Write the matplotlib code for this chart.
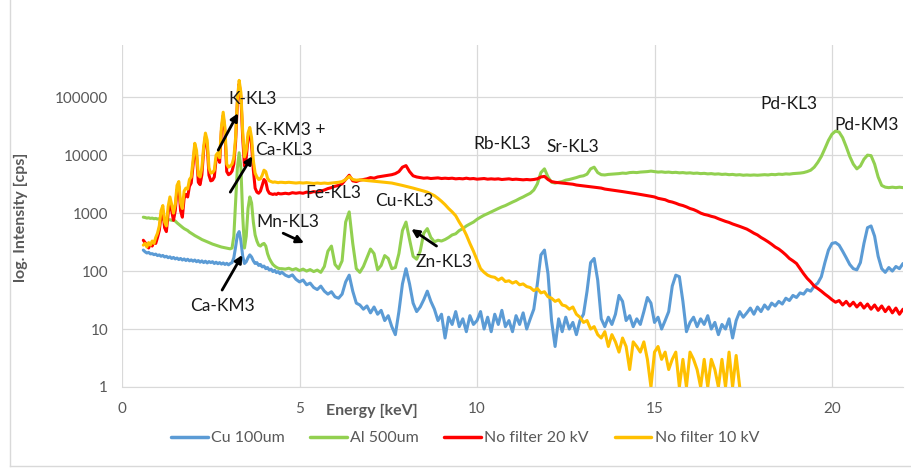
import numpy as np
import matplotlib
matplotlib.use("Agg")
import matplotlib.pyplot as plt
from matplotlib.lines import Line2D

plt.rcParams['font.family'] = ['Lato', 'DejaVu Sans']

# Energy sampling [keV]: 0.05 keV steps up to 4.45 keV, 0.1 keV steps from 4.5 keV
energy_low = 0.60 + 0.05 * np.arange(78)
energy_high = 4.5 + 0.1 * np.arange(176)
energy = np.concatenate([energy_low, energy_high])

# Intensities [cps]
cu100_low = [
    230, 215, 205, 210, 198, 200, 192, 196, 185, 190,
    180, 186, 175, 180, 170, 176, 165, 172, 162, 168,
    158, 165, 155, 162, 152, 160, 150, 156, 148, 155,
    145, 152, 142, 150, 140, 148, 138, 146, 140, 145,
    135, 142, 134, 140, 132, 138, 130, 136, 128, 135,
    140, 170, 260, 420, 480, 330, 180, 135, 145, 170,
    190, 175, 150, 135, 140, 125, 130, 118, 122, 110,
    115, 104, 108, 98, 103, 94, 98, 90,
]
cu100_high = [
    96, 85, 80, 86, 72, 65, 70, 58, 62, 52,
    48, 55, 45, 40, 44, 36, 34, 40, 65, 85,
    45, 28, 26, 22, 25, 19, 24, 18, 21, 14,
    17, 11, 8, 20, 60, 110, 60, 28, 20, 24,
    32, 45, 30, 22, 14, 18, 7, 16, 12, 20,
    11, 15, 9, 17, 12, 14, 20, 10, 16, 9,
    18, 12, 21, 11, 14, 9, 17, 12, 19, 10,
    15, 22, 60, 190, 230, 90, 14, 5, 15, 9,
    16, 10, 13, 8, 14, 18, 45, 140, 165, 70,
    15, 11, 16, 12, 18, 38, 30, 14, 17, 11,
    15, 12, 20, 35, 28, 13, 16, 10, 14, 20,
    55, 85, 80, 30, 9, 13, 16, 11, 15, 12,
    17, 10, 13, 8, 12, 10, 15, 7, 14, 20,
    16, 19, 23, 18, 24, 20, 26, 22, 28, 25,
    30, 27, 34, 31, 38, 35, 42, 40, 48, 45,
    55, 62, 80, 140, 230, 300, 310, 280, 220, 170,
    130, 110, 105, 140, 300, 560, 600, 400, 180, 110,
    95, 115, 100, 120, 110, 135,
]

al500_low = [
    850, 840, 820, 830, 810, 820, 800, 810, 790, 800,
    780, 790, 770, 780, 760, 770, 750, 760, 730, 680,
    640, 600, 570, 540, 520, 500, 470, 450, 430, 410,
    395, 380, 365, 350, 340, 330, 320, 310, 300, 292,
    285, 278, 272, 266, 260, 256, 252, 248, 245, 242,
    250, 400, 1500, 6000, 11000, 6000, 900, 250, 400, 1200,
    1900, 1500, 700, 420, 330, 280, 270, 290, 300, 270,
    200, 165, 145, 130, 122, 116, 112, 110,
]
al500_high = [
    110, 108, 112, 105, 110, 102, 108, 100, 106, 98,
    104, 95, 120, 220, 270, 130, 110, 150, 700, 1050,
    300, 110, 95, 120, 170, 240, 200, 105, 125, 185,
    165, 110, 115, 200, 500, 700, 350, 180, 160, 220,
    450, 540, 380, 320, 340, 330, 350, 380, 420, 440,
    500, 540, 600, 650, 700, 780, 850, 920, 980, 1050,
    1120, 1200, 1280, 1350, 1450, 1550, 1650, 1780, 1900, 2050,
    2200, 2500, 3200, 5000, 5800, 4200, 3400, 3300, 3400, 3500,
    3700, 3800, 3950, 4100, 4300, 4400, 4700, 5800, 6200, 5000,
    4600, 4550, 4650, 4700, 4750, 4800, 4900, 4850, 5000, 5050,
    5000, 5100, 5150, 5200, 5300, 5200, 5100, 5150, 5050, 5100,
    5000, 5050, 4950, 5000, 4900, 4950, 4850, 4900, 4800, 4850,
    4750, 4800, 4700, 4750, 4650, 4700, 4600, 4650, 4550, 4600,
    4500, 4550, 4500, 4550, 4500, 4550, 4600, 4550, 4650, 4600,
    4700, 4650, 4750, 4700, 4800, 4850, 4900, 5000, 5200, 5500,
    6200, 7500, 9500, 13000, 18000, 23000, 26000, 25000, 20000, 14000,
    9500, 7000, 5800, 6500, 8500, 10000, 9800, 7000, 4200, 3000,
    2800, 2750, 2800, 2750, 2800, 2750,
]

nofilter20_low = [
    340, 310, 280, 250, 300, 270, 320, 300, 380, 500,
    900, 1100, 560, 480, 1000, 1600, 1100, 750, 1100, 2500,
    2900, 1100, 850, 1800, 2100, 1900, 2900, 3300, 6500, 14000,
    10000, 3400, 3100, 4600, 12000, 21000, 15000, 4500, 3600, 3700,
    4200, 8500, 9500, 7500, 26000, 48000, 25000, 5200, 4600, 4800,
    5300, 7000, 17000, 80000, 170000, 100000, 20000, 6500, 9000, 20000,
    25000, 15000, 5500, 2700, 2300, 2200, 2400, 3000, 3800, 3500,
    2500, 2200, 2150, 2100, 2150, 2100, 2200, 2150,
]
nofilter20_high = [
    2150, 2200, 2150, 2250, 2200, 2250, 2200, 2300, 2250, 2350,
    2300, 2400, 2500, 2650, 2750, 2900, 3000, 3200, 3800, 4500,
    3600, 3500, 3700, 3800, 3900, 4100, 4000, 4200, 4300, 4400,
    4500, 4600, 4800, 5200, 6200, 6600, 5200, 4400, 4200, 4100,
    4000, 4050, 3950, 4000, 4050, 3950, 4000, 3950, 4000, 3900,
    3950, 3900, 4000, 3900, 3950, 3850, 3900, 3950, 3850, 3900,
    3850, 3900, 3800, 3850, 3900, 3800, 3850, 3800, 3750, 3800,
    3750, 3800, 3900, 4200, 4300, 3800, 3500, 3400, 3350, 3300,
    3250, 3200, 3150, 3050, 3000, 2950, 2900, 2850, 2800, 2750,
    2700, 2600, 2550, 2500, 2450, 2400, 2350, 2300, 2250, 2200,
    2150, 2100, 2050, 2000, 1950, 1900, 1800, 1750, 1700, 1600,
    1550, 1480, 1400, 1350, 1280, 1200, 1150, 1080, 1000, 950,
    920, 880, 850, 800, 760, 720, 690, 650, 620, 590,
    560, 530, 490, 450, 420, 380, 350, 320, 290, 260,
    240, 215, 190, 165, 150, 135, 110, 90, 75, 65,
    55, 50, 45, 40, 36, 32, 29, 31, 26, 30,
    25, 29, 24, 28, 23, 27, 22, 26, 21, 25,
    20, 24, 19, 23, 18, 22,
]

nofilter10_low = [
    280, 300, 260, 310, 280, 330, 300, 380, 450, 600,
    1100, 1350, 700, 600, 1300, 1900, 1400, 1000, 1400, 3000,
    3500, 1500, 1200, 2400, 2700, 2600, 3800, 4200, 8000, 16000,
    12000, 4500, 4200, 6000, 14000, 24000, 18000, 6000, 4900, 5000,
    5500, 10000, 11000, 9000, 30000, 55000, 30000, 7000, 6200, 6500,
    7000, 9000, 20000, 90000, 195000, 120000, 25000, 9300, 12000, 24000,
    30000, 20000, 8000, 4900, 4200, 3800, 3900, 4500, 5500, 5200,
    4000, 3600, 3500, 3400, 3450, 3400, 3350, 3400,
]
nofilter10_high = [
    3400, 3350, 3400, 3350, 3300, 3350, 3300, 3350, 3300, 3250,
    3300, 3250, 3300, 3250, 3300, 3350, 3400, 3500, 3800, 4300,
    3800, 3700, 3750, 3700, 3650, 3600, 3550, 3500, 3450, 3400,
    3350, 3300, 3200, 3100, 3000, 2900, 2800, 2700, 2600, 2500,
    2400, 2300, 2150, 2000, 1800, 1600, 1400, 1200, 1050, 900,
    700, 560, 420, 300, 220, 155, 110, 95, 85, 80,
    78, 70, 76, 66, 68, 62, 66, 58, 60, 54,
    52, 46, 50, 42, 44, 36, 34, 30, 32, 26,
    25, 22, 24, 18, 16, 13, 14, 10, 11, 8,
    7, 9, 5, 8, 6, 4, 7, 5, 2, 6,
    5, 4, 6, 3, 1, 4, 5, 3, 4, 2,
    3, 4, 1, 3, 1, 4, 3, 2, 1, 3,
    1, 3, 2, 1, 3, 1, 4, 1, 3.5, 1,
]

series = [
    ("Cu 100um", cu100_low + cu100_high, "#5B9BD5"),
    ("Al 500um", al500_low + al500_high, "#92D050"),
    ("No filter 20 kV", nofilter20_low + nofilter20_high, "#FF0000"),
    ("No filter 10 kV", nofilter10_low + nofilter10_high, "#FFC000"),
]

# Line labels: (text, energy, cps)
peak_labels = [
    ("K-KL3", 2.99, 9.3e4),
    ("K-KM3 +", 3.75, 2.7e4),
    ("Ca-KL3", 3.75, 1.22e4),
    ("Fe-KL3", 5.16, 2.2e3),
    ("Mn-KL3", 3.78, 7.0e2),
    ("Cu-KL3", 7.14, 1.6e3),
    ("Zn-KL3", 8.27, 1.43e2),
    ("Ca-KM3", 1.92, 2.5e1),
    ("Rb-KL3", 9.9, 1.55e4),
    ("Sr-KL3", 11.96, 1.37e4),
    ("Pd-KL3", 17.97, 7.6e4),
    ("Pd-KM3", 20.06, 3.3e4),
]
# Pointer arrows: (tail energy, tail cps, head energy, head cps)
pointers = [
    (2.71, 1.22e4, 3.27, 5.3e4),
    (3.05, 2.3e3, 3.67, 9.6e3),
    (4.54, 4.5e2, 5.13, 3.05e2),
    (8.86, 2.7e2, 8.15, 5.3e2),
    (2.82, 4.7e1, 3.39, 1.9e2),
]

W, H = 911, 471
fig = plt.figure(figsize=(W / 100, H / 100), dpi=100)
ax = fig.add_axes([122 / W, 1 - 387 / H, (903 - 122) / W, (387 - 45) / H])

for name, vals, color in series:
    n = len(vals)
    ax.plot(energy[:n], vals, color=color, lw=2.2, label=name,
            solid_joinstyle='round', solid_capstyle='round')

ax.set_yscale('log')
ax.set_xlim(0, 22)
ax.set_ylim(1, 10 ** 5.9)
ax.set_xticks([0, 5, 10, 15, 20])
ax.set_yticks([1, 10, 100, 1000, 10000, 100000])
ax.set_yticklabels(['1', '10', '100', '1000', '10000', '100000'])
ax.yaxis.set_minor_locator(matplotlib.ticker.NullLocator())
ax.grid(True, color='#d9d9d9', lw=0.9)
ax.set_axisbelow(True)
for s in ['top', 'right', 'left']:
    ax.spines[s].set_visible(False)
ax.spines['bottom'].set_color('#d9d9d9')
ax.tick_params(axis='both', length=0, labelsize=11, colors='#595959')
ax.tick_params(axis='x', pad=11)
ax.tick_params(axis='y', pad=10)

for text, e, v in peak_labels:
    ax.text(e, v, text, fontsize=12.5, color='#1a1a1a', ha='left', va='center')
for e0, v0, e1, v1 in pointers:
    ax.annotate('', xy=(e1, v1), xytext=(e0, v0),
                arrowprops=dict(arrowstyle='-|>', color='black', lw=2.0,
                                mutation_scale=11, shrinkA=0, shrinkB=0))

fig.text(372 / W, 1 - 411 / H, 'Energy [keV]', fontsize=11.5, fontweight='bold',
         color='#595959', ha='center', va='center')
fig.text(21 / W, 1 - 217 / H, 'log. Intensity [cps]', fontsize=11.5, fontweight='bold',
         color='#595959', ha='center', va='center', rotation=90)

handles, labels = ax.get_legend_handles_labels()
leg = fig.legend(handles, labels, loc='center', bbox_to_anchor=(465 / W, 1 - 438 / H),
                 ncol=4, frameon=False, fontsize=11.5, handlelength=2.3,
                 handletextpad=0.2, columnspacing=1.6)
for t in leg.get_texts():
    t.set_color('#595959')
for ln in leg.get_lines():
    ln.set_linewidth(2.5)

# Chart area border
fig.add_artist(Line2D([10 / W, 10 / W], [1 - 466 / H, 1.0], color='#d9d9d9', lw=1))
fig.add_artist(Line2D([10 / W, 1.0], [1 - 466 / H, 1 - 466 / H], color='#d9d9d9', lw=1))

fig.savefig('out.png', dpi=100)
